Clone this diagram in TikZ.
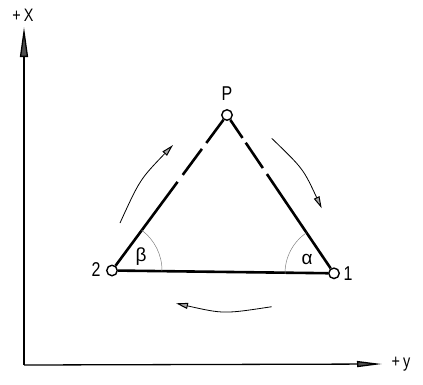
\documentclass[tikz,border=0pt]{standalone}
\usepackage{fontspec}
\setmainfont{Liberation Sans}
\newfontfamily\narrowfont[FakeStretch=0.8]{Liberation Sans}
\usetikzlibrary{arrows.meta,calc}
\begin{document}
\begin{tikzpicture}[x=1pt,y=-1pt,
  tri/.style={line width=2.6pt,line cap=butt},
  axisv/.style={line width=1.3pt,-{Triangle[length=30pt,width=8pt,fill=black!70]}},
  axish/.style={line width=1.3pt,-{Triangle[length=25pt,width=6pt,fill=black!70]}},
  turn/.style={line width=0.8pt,-{Triangle[open,length=12pt,width=6pt,line width=1pt,fill=black!35]}},
  ang/.style={line width=0.5pt,gray},
  pt/.style={circle,draw,line width=1.4pt,fill=white,inner sep=0pt,minimum size=10.5pt},
  lab/.style={font=\fontsize{20}{20}\selectfont\narrowfont,inner sep=0pt},
  greek/.style={font=\fontsize{19}{19}\selectfont,inner sep=0pt},
  axlab/.style={font=\fontsize{18}{18}\selectfont\narrowfont,inner sep=0pt}]
\useasboundingbox (0,0) rectangle (423,384);
% axes
\coordinate (O) at (24,365);
\coordinate (X) at (24,27);
\coordinate (Y) at (382,364);
\draw[axisv] (O) -- (X);
\draw[axish] (O) -- (Y);
\node[axlab] (lx) at (23,15) {+\,X};
\node[axlab] (ly) at (401,364) {+\,y};
% points
\node[pt] (P) at (227,115) {};
\node[pt] (p2) at (112,270.5) {};
\node[pt] (p1) at (334,273.3) {};
% sides
\draw[tri] (p2) -- (p1);
\draw[tri] (p2) -- ($(p2)!0.570!(P)$);
\draw[tri] ($(p2)!0.615!(P)$) -- ($(p2)!0.782!(P)$);
\draw[tri] ($(p2)!0.820!(P)$) -- (P);
\draw[tri] (p1) -- ($(p1)!0.627!(P)$);
\draw[tri] ($(p1)!0.665!(P)$) -- ($(p1)!0.825!(P)$);
\draw[tri] ($(p1)!0.855!(P)$) -- (P);
% angle arcs
\draw[ang] ($(p2)+(-53.55:50)$) arc[start angle=-53.55,end angle=0.67,radius=50];
\draw[ang] ($(p1)+(-180.67:49)$) arc[start angle=-180.67,end angle=-124.1,radius=49];
% labels
\node[lab] (lP) at (227,94) {P};
\node[lab] (l2) at (96,270) {2};
\node[lab] (l1) at (348,274) {1};
\node[greek] (lb) at (141,257) {β};
\node[greek] (la) at (307,259) {α};
% turning arrows
\coordinate (l0) at (120,223);
\coordinate (l9) at (173,145);
\draw[turn] (l0) .. controls (139.9,179.5) .. (l9);
\coordinate (r0) at (271.7,138.3);
\coordinate (r9) at (321.7,208.3);
\draw[turn] (r0) .. controls (303.2,168.7) .. (r9);
\coordinate (b0) at (271.7,306.7);
\coordinate (b9) at (176,303.3);
\draw[turn] (b0) .. controls (223.8,314) .. (b9);
\end{tikzpicture}
\end{document}
